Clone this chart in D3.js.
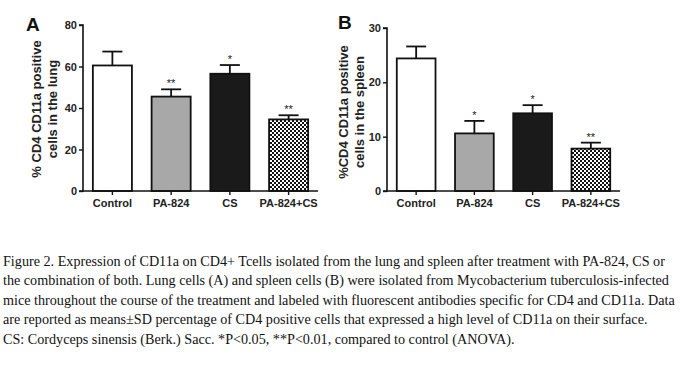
<!DOCTYPE html>
<html>
<head>
<meta charset="utf-8">
<script src="https://cdn.jsdelivr.net/npm/d3@7"></script>
<style>
html,body{margin:0;padding:0;background:#fff;}
svg{display:block;}
</style>
</head>
<body>
<svg id="chart" width="700" height="368"></svg>
<script>
// ---- data ----
const categories = ["Control", "PA-824", "CS", "PA-824+CS"];
const lungMeans = [60.5, 45.5, 56.5, 34.5];
const lungSD = [6.7, 3.5, 4.2, 2.0];
const lungStars = ["", "**", "*", "**"];
const spleenMeans = [24.4, 10.6, 14.3, 7.8];
const spleenSD = [2.2, 2.3, 1.5, 1.1];
const spleenStars = ["", "*", "*", "**"];
const lungTicks = [0, 20, 40, 60, 80];
const spleenTicks = [0, 10, 20, 30];
const captionLines = [
  "Figure 2. Expression of CD11a on CD4+ Tcells isolated from the lung and spleen after treatment with PA-824, CS or",
  "the combination of both. Lung cells (A) and spleen cells (B) were isolated from Mycobacterium tuberculosis-infected",
  "mice throughout the course of the treatment and labeled with fluorescent antibodies specific for CD4 and CD11a. Data",
  "are reported as means\u00b1SD percentage of CD4 positive cells that expressed a high level of CD11a on their surface.",
  "CS: Cordyceps sinensis (Berk.) Sacc. *P<0.05, **P<0.01, compared to control (ANOVA)."
];

const svg = d3.select("#chart");
svg.append("rect").attr("width", 700).attr("height", 368).attr("fill", "#fff");

const defs = svg.append("defs");
const pat = defs.append("pattern").attr("id", "checker")
  .attr("patternUnits", "userSpaceOnUse").attr("width", 4).attr("height", 4);
pat.append("rect").attr("width", 4).attr("height", 4).attr("fill", "#fff");
pat.append("rect").attr("x", 0).attr("y", 0).attr("width", 2).attr("height", 2).attr("fill", "#111");
pat.append("rect").attr("x", 2).attr("y", 2).attr("width", 2).attr("height", 2).attr("fill", "#111");

const fills = ["#ffffff", "#a8a8a8", "#1a1a1a", "url(#checker)"];
const FONT = "'Liberation Sans', Arial, sans-serif";

function panel(cfg) {
  const g = svg.append("g");
  const x = d3.scaleBand().domain(categories).range([cfg.x0, cfg.x1]).paddingInner(0.335).paddingOuter(0.168);
  const y = d3.scaleLinear().domain([0, cfg.max]).range([cfg.y0, cfg.y1]);

  // bars
  g.selectAll("rect.bar").data(categories).enter().append("rect")
    .attr("class", "bar")
    .attr("x", d => x(d))
    .attr("y", (d, i) => y(cfg.means[i]))
    .attr("width", x.bandwidth())
    .attr("height", (d, i) => y(0) - y(cfg.means[i]))
    .attr("fill", (d, i) => fills[i])
    .attr("stroke", "#111").attr("stroke-width", 1.8);

  // error bars
  const eb = g.selectAll("g.err").data(categories).enter().append("g").attr("class", "err");
  eb.append("line")
    .attr("x1", d => x(d) + x.bandwidth() / 2).attr("x2", d => x(d) + x.bandwidth() / 2)
    .attr("y1", (d, i) => y(cfg.means[i])).attr("y2", (d, i) => y(cfg.means[i] + cfg.sd[i]))
    .attr("stroke", "#111").attr("stroke-width", 1.8);
  eb.append("line")
    .attr("x1", d => x(d) + x.bandwidth() / 2 - 10).attr("x2", d => x(d) + x.bandwidth() / 2 + 10)
    .attr("y1", (d, i) => y(cfg.means[i] + cfg.sd[i])).attr("y2", (d, i) => y(cfg.means[i] + cfg.sd[i]))
    .attr("stroke", "#111").attr("stroke-width", 1.8);

  // stars
  g.selectAll("text.star").data(categories).enter().append("text")
    .attr("class", "star")
    .attr("x", d => x(d) + x.bandwidth() / 2)
    .attr("y", (d, i) => y(cfg.means[i] + cfg.sd[i]) - 2)
    .attr("text-anchor", "middle")
    .attr("font-family", FONT).attr("font-size", 11).attr("fill", "#222")
    .text((d, i) => cfg.stars[i]);

  // y axis
  const ya = g.append("g").attr("transform", `translate(${cfg.x0},0)`)
    .call(d3.axisLeft(y).tickValues(cfg.ticks).tickSize(4).tickPadding(2));
  ya.select(".domain").attr("stroke", "#111").attr("stroke-width", 1.6).attr("d", `M-4,${y(cfg.max)}H0V${y(0)}H-4`);
  ya.selectAll(".tick line").attr("stroke", "#111").attr("stroke-width", 1.4);
  ya.selectAll(".tick text").attr("font-family", FONT).attr("font-weight", "bold").attr("font-size", 11).attr("fill", "#222");

  // x axis
  const xa = g.append("g").attr("transform", `translate(0,${cfg.y0})`)
    .call(d3.axisBottom(x).tickSize(4).tickPadding(4));
  xa.select(".domain").attr("stroke", "#111").attr("stroke-width", 1.6).attr("d", `M${cfg.x0},0H${cfg.x1}`);
  xa.selectAll(".tick line").attr("stroke", "#111").attr("stroke-width", 1.4);
  xa.selectAll(".tick text").attr("font-family", FONT).attr("font-weight", "bold").attr("font-size", 11).attr("fill", "#222");

  // y label
  const lbl = g.append("text")
    .attr("transform", `translate(${cfg.lx},${cfg.ly}) rotate(-90)`)
    .attr("text-anchor", "middle")
    .attr("font-family", FONT).attr("font-weight", "bold").attr("font-size", 13).attr("fill", "#222");
  lbl.append("tspan").attr("x", 0).attr("dy", 0).text(cfg.label1);
  lbl.append("tspan").attr("x", 0).attr("dy", 16).text(cfg.label2);

  // panel letter
  g.append("text").attr("x", cfg.px).attr("y", cfg.py)
    .attr("font-family", FONT).attr("font-weight", "bold").attr("font-size", 19).attr("fill", "#111")
    .text(cfg.letter);
}

panel({
  x0: 83, x1: 318, y0: 191, y1: 25, max: 80,
  means: lungMeans, sd: lungSD, stars: lungStars, ticks: lungTicks,
  lx: 41, ly: 109, label1: "% CD4 CD11a positive", label2: "cells in the lung",
  px: 26, py: 31, letter: "A"
});
panel({
  x0: 387, x1: 620, y0: 191, y1: 28, max: 30,
  means: spleenMeans, sd: spleenSD, stars: spleenStars, ticks: spleenTicks,
  lx: 348, ly: 112, label1: "%CD4 CD11a positive", label2: "cells in the spleen",
  px: 338, py: 29, letter: "B"
});

// caption: fit the widest line (line 3) to the reference's right edge
const cap = svg.append("g").selectAll("text").data(captionLines).enter().append("text")
  .attr("x", 3)
  .attr("y", (d, i) => 266 + i * 19.4)
  .attr("font-family", "'Liberation Serif', 'Times New Roman', serif")
  .attr("font-size", 14).attr("fill", "#111")
  .text(d => d);
const w3 = cap.nodes()[2].getComputedTextLength();
const fs = Math.min(15, 14 * 672 / w3);
cap.attr("font-size", fs);
</script>
</body>
</html>
